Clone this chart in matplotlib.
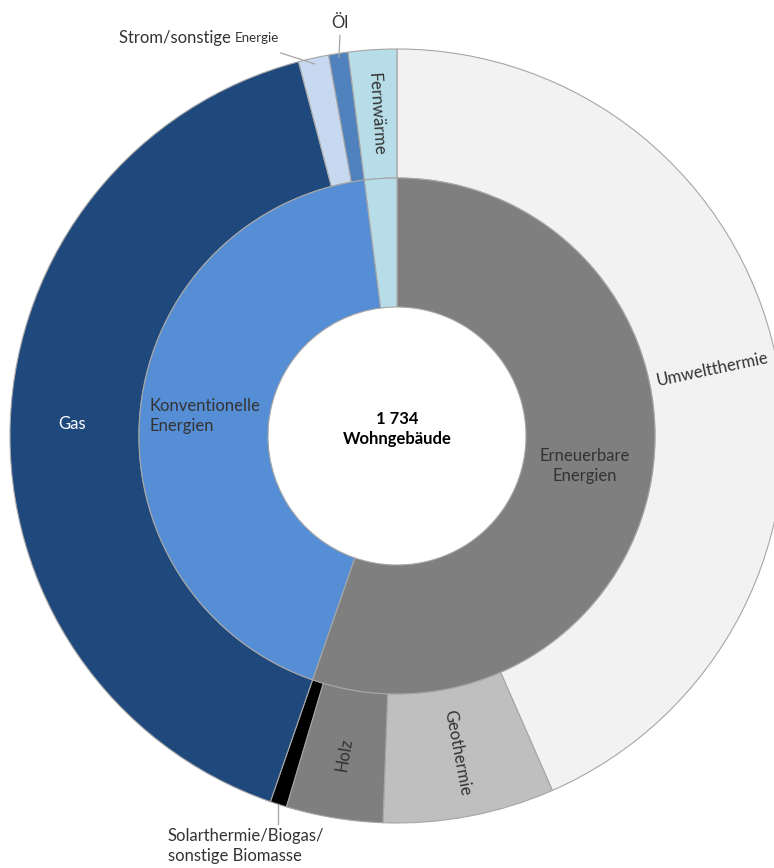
import numpy as np
import matplotlib
matplotlib.use("Agg")
import matplotlib.pyplot as plt

# outer ring (Energieträger), clockwise from 12 o'clock
outer_labels = ["Umweltthermie", "Geothermie", "Holz", "Solarthermie/Biogas/\nsonstige Biomasse",
                "Gas", "Strom/sonstige Energie", "Öl", "Fernwärme"]
outer_values = [753, 124, 70, 12, 704, 22, 14, 35]
outer_colors = ["#f2f2f2", "#bfbfbf", "#7f7f7f", "#000000",
                "#1f497d", "#c6d9f1", "#4f81bd", "#b7dee8"]

# inner ring (Gruppen)
inner_labels = ["Erneuerbare\nEnergien", "Konventionelle\nEnergien", ""]
inner_values = [959, 740, 35]
inner_colors = ["#7f7f7f", "#558ed5", "#b7dee8"]

total_label = "1 734\nWohngebäude"

W, H = 774, 868
cx, cy = 397, H - 436
r_out, r_mid, r_in = 387, 258, 129

plt.rcParams["font.family"] = ["Lato", "DejaVu Sans"]
fig = plt.figure(figsize=(W / 100, H / 100), dpi=100)
ax = fig.add_axes([0, 0, 1, 1])

edge = dict(edgecolor="#a6a6a6", linewidth=0.8)
ax.pie(outer_values, colors=outer_colors, radius=r_out, center=(cx, cy),
       startangle=90, counterclock=False,
       wedgeprops=dict(width=r_out - r_mid, **edge))
ax.pie(inner_values, colors=inner_colors, radius=r_mid, center=(cx, cy),
       startangle=90, counterclock=False,
       wedgeprops=dict(width=r_mid - r_in, **edge))
ax.set_xlim(0, W)
ax.set_ylim(0, H)
ax.set_aspect("equal")
ax.axis("off")


def mid_angles(vals):
    v = np.array(vals, float)
    c = np.cumsum(v)
    return (c - v / 2) / v.sum() * 360.0  # clockwise from top


def polar(theta, r):
    t = np.deg2rad(theta)
    return cx + r * np.sin(t), cy + r * np.cos(t)


fs = 12
tc = "#333333"
om = mid_angles(outer_values)
r_lab = (r_out + r_mid) / 2

# radial labels in the outer ring
for i, rot_flip in [(0, False), (1, False), (2, True), (7, True)]:
    x, y = polar(om[i], r_lab)
    rot = 90 - om[i]
    if rot_flip:
        rot += 180
    if rot > 180:
        rot -= 360
    ax.text(x, y, outer_labels[i], rotation=rot, rotation_mode="anchor",
            ha="center", va="center", fontsize=fs, color=tc)

# Gas, horizontal and white
x, y = polar(om[4], r_lab)
ax.text(x - 3, y, outer_labels[4], ha="center", va="center", fontsize=fs, color="white")

# inner ring labels
im = mid_angles(inner_values)
r_lab2 = (r_mid + r_in) / 2
x, y = polar(im[0], r_lab2)
ax.text(x - 3, y + 2, inner_labels[0], ha="center", va="center", fontsize=fs,
        color=tc, linespacing=1.25)
x, y = polar(im[1], r_lab2)
ax.text(x, y, inner_labels[1], ha="center", va="center", fontsize=fs,
        color=tc, linespacing=1.25, multialignment="left")

# centre
ax.text(cx, cy + 7, total_label, ha="center", va="center", fontsize=fs,
        fontweight="bold", color="black", linespacing=1.3)

# small segments with leader lines
lead = "#a6a6a6"
# Solarthermie
x0, y0 = polar(om[3], r_out)
ax.plot([x0, x0], [y0, y0 - 20], color=lead, lw=0.9)
ax.text(168, H - 846, outer_labels[3], ha="left", va="center", fontsize=fs,
        color=tc, linespacing=1.3)
# Öl
x0, y0 = polar(om[6], r_out - 4)
ax.plot([x0, x0 + 1], [y0, y0 + 22], color=lead, lw=0.9)
ax.text(x0 + 1, y0 + 34, outer_labels[6], ha="center", va="center",
        fontsize=fs, color=tc)
# Strom / sonstige Energie
x0, y0 = polar(om[5], r_out - 6)
ax.plot([x0, x0 - 34], [y0, y0 + 11], color=lead, lw=0.9)
first, second = outer_labels[5].rsplit(" ", 1)
t1 = ax.text(119, H - 38, first + " ", ha="left", va="center",
             fontsize=fs, color=tc)
fig.canvas.draw()
bb = t1.get_window_extent()
ax.text(bb.x1, H - 38, second, ha="left", va="center",
        fontsize=fs * 0.8, color=tc)

fig.savefig("out.png", dpi=100, facecolor="white")
